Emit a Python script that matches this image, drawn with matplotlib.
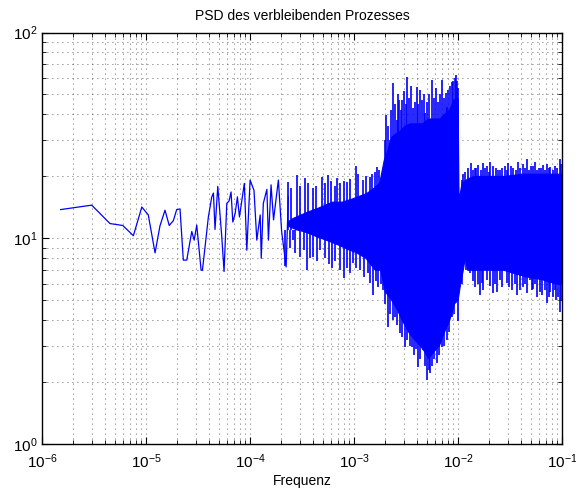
import matplotlib
matplotlib.use("Agg")
from matplotlib import pyplot as plt

plt.rcParams['font.family'] = ['Liberation Sans', 'DejaVu Sans']

# low-frequency part: single line
f_line = [1.51e-6, 3.0e-6, 4.5e-6, 5.97e-6, 7.55e-6, 9.1e-6, 1.05e-5, 1.22e-5,
          1.36e-5, 1.52e-5, 1.67e-5, 1.83e-5, 1.97e-5, 2.12e-5, 2.28e-5, 2.46e-5,
          2.75e-5, 2.9e-5, 3.07e-5, 3.38e-5, 3.48e-5, 3.69e-5, 3.97e-5, 4.28e-5,
          4.44e-5, 4.6e-5, 4.89e-5, 5.34e-5, 5.62e-5, 5.97e-5, 6.28e-5, 6.56e-5,
          6.82e-5, 7.18e-5, 7.55e-5, 7.9e-5, 8.8e-5, 9.3e-5, 1.0e-4, 1.09e-4,
          1.16e-4, 1.25e-4, 1.28e-4, 1.34e-4, 1.45e-4, 1.5e-4, 1.59e-4, 1.68e-4,
          1.87e-4, 2.01e-4, 2.22e-4, 2.33e-4]
p_line = [13.8, 14.5, 11.8, 11.55, 10.3, 14.2, 13.0, 8.5,
          11.5, 13.7, 11.55, 12.2, 13.8, 13.9, 7.84, 7.84,
          10.8, 9.8, 11.6, 7.0, 7.0, 9.1, 12.7, 15.9,
          16.6, 11.05, 17.9, 10.2, 6.9, 14.8, 15.2, 16.8,
          12.0, 13.2, 15.9, 12.7, 18.5, 8.76, 19.2, 17.1,
          9.8, 13.0, 8.0, 14.8, 17.3, 9.8, 18.2, 12.3,
          19.2, 10.8, 7.26, 15.9]

# dense part: solid body, upper edge
f_body_up = [2.3e-4, 2.6e-4, 3.1e-4, 3.7e-4, 4.5e-4, 5.3e-4, 6.2e-4, 7.7e-4,
             9.5e-4, 1.12e-3, 1.32e-3, 1.55e-3, 1.76e-3, 1.95e-3, 2.12e-3, 2.3e-3,
             2.48e-3, 2.75e-3, 3.07e-3, 3.45e-3, 4.0e-3, 4.55e-3, 5.2e-3, 6.0e-3,
             6.7e-3, 7.4e-3, 8.3e-3, 9.1e-3, 1.0e-2, 1.02e-2, 1.09e-2, 1.25e-2,
             1.45e-2, 1.9e-2, 2.8e-2, 4.2e-2, 6.0e-2, 8.6e-2, 1.0e-1]
p_body_up = [12.0, 12.5, 13.0, 13.5, 14.0, 14.5, 15.0, 15.0,
             15.5, 16.0, 16.5, 17.5, 18.5, 24.0, 27.0, 31.0,
             32.0, 33.0, 35.0, 36.0, 36.0, 36.0, 38.0, 38.0,
             38.0, 40.0, 42.0, 47.0, 48.0, 15.3, 18.5, 19.5,
             20.0, 20.0, 20.0, 20.5, 20.5, 20.5, 20.5]

# dense part: solid body, lower edge
f_body_lo = [2.3e-4, 2.8e-4, 3.25e-4, 3.8e-4, 4.35e-4, 5.4e-4, 7.0e-4, 8.9e-4,
             1.06e-3, 1.3e-3, 1.6e-3, 1.8e-3, 2.0e-3, 2.3e-3, 2.6e-3, 2.9e-3,
             3.35e-3, 3.85e-3, 4.35e-3, 4.8e-3, 5.2e-3, 5.8e-3, 6.6e-3, 7.4e-3,
             8.3e-3, 9.2e-3, 1.0e-2, 1.045e-2, 1.12e-2, 1.17e-2, 1.24e-2, 1.55e-2,
             2.03e-2, 2.75e-2, 3.3e-2, 4.55e-2, 6.4e-2, 8.8e-2, 1.0e-1]
p_body_lo = [11.5, 11.0, 10.8, 10.5, 10.2, 9.8, 9.3, 8.8,
             8.5, 8.0, 7.0, 7.0, 5.5, 5.0, 4.5, 4.0,
             3.5, 3.2, 3.0, 2.8, 2.6, 2.8, 3.0, 3.5,
             4.0, 4.8, 5.0, 5.8, 7.0, 8.0, 7.0, 7.0,
             7.0, 7.0, 6.8, 6.5, 6.3, 6.0, 6.0]

# tallest upward spikes
f_peak = [2.32e-4, 2.83e-4, 3.38e-4, 4.04e-4, 4.92e-4, 5.62e-4, 6.87e-4, 8.57e-4,
          1.045e-3, 1.22e-3, 1.43e-3, 1.66e-3, 1.86e-3, 2.03e-3, 2.22e-3, 2.37e-3,
          2.59e-3, 2.73e-3, 2.9e-3, 3.24e-3, 3.69e-3, 4.01e-3, 4.31e-3, 4.82e-3,
          5.62e-3, 6.43e-3, 7.02e-3, 7.84e-3, 8.07e-3, 8.75e-3, 9.57e-3, 1.0e-2,
          1.09e-2, 1.17e-2, 1.33e-2, 1.45e-2, 1.56e-2, 1.74e-2, 1.9e-2, 2.03e-2,
          2.3e-2, 2.53e-2, 2.8e-2, 3.03e-2, 3.4e-2, 3.78e-2, 4.2e-2, 4.61e-2,
          5.0e-2, 5.5e-2, 6.0e-2, 6.56e-2, 7.1e-2, 7.67e-2, 8.6e-2, 9.57e-2]
p_peak = [18.8, 20.3, 19.6, 17.6, 19.9, 20.3, 19.6, 18.8,
          22.4, 19.2, 19.9, 22.2, 20.7, 39.7, 30.0, 56.8,
          37.6, 47.0, 47.0, 60.8, 43.0, 54.5, 52.5, 40.6,
          58.8, 45.9, 58.8, 43.5, 52.5, 57.4, 62.1, 53.7,
          19.2, 21.0, 23.2, 22.0, 22.7, 23.2, 22.5, 23.4,
          22.0, 21.5, 22.5, 23.2, 22.0, 23.4, 23.0, 24.3,
          22.5, 23.4, 22.0, 22.7, 23.0, 22.2, 22.5, 24.3]

# smaller upward spikes
f_peak2 = [2.5e-4, 3.0e-4, 3.6e-4, 4.3e-4, 5.2e-4, 6.0e-4, 6.5e-4, 7.3e-4,
           8.0e-4, 9.2e-4, 1.1e-3, 1.3e-3, 1.5e-3, 1.6e-3, 1.75e-3, 1.98e-3,
           2.1e-3, 2.28e-3, 2.45e-3, 2.65e-3, 2.82e-3, 3.0e-3, 3.15e-3, 3.35e-3,
           3.5e-3, 3.85e-3, 4.15e-3, 4.45e-3, 4.65e-3, 5.0e-3, 5.3e-3, 5.8e-3,
           6.1e-3, 6.7e-3, 7.25e-3, 7.6e-3, 8.4e-3, 9.0e-3, 9.3e-3, 9.8e-3,
           1.12e-2, 1.25e-2, 1.39e-2, 1.5e-2, 1.65e-2, 1.82e-2, 1.97e-2, 2.15e-2,
           2.42e-2, 2.65e-2, 2.92e-2, 3.2e-2, 3.6e-2, 3.95e-2, 4.4e-2, 4.8e-2,
           5.25e-2, 5.75e-2, 6.3e-2, 6.85e-2, 7.4e-2, 8.1e-2, 9.0e-2, 9.8e-2]
p_peak2 = [17.5, 18.0, 18.5, 18.0, 18.5, 19.0, 18.0, 18.5,
           19.0, 19.5, 20.5, 20.0, 20.5, 21.0, 21.5, 30.0,
           35.0, 42.0, 45.0, 50.0, 42.0, 52.0, 45.0, 48.0,
           55.0, 46.0, 45.0, 47.0, 50.0, 46.0, 50.0, 48.0,
           54.0, 50.0, 48.0, 51.0, 55.0, 58.0, 60.0, 58.0,
           20.5, 22.0, 21.5, 22.0, 21.5, 22.0, 21.0, 22.5,
           21.5, 22.0, 21.5, 22.5, 21.5, 22.0, 22.0, 21.5,
           22.5, 21.5, 22.0, 21.5, 22.0, 21.5, 22.0, 23.0]

# deepest downward spikes
f_trough = [2.17e-4, 2.59e-4, 3.03e-4, 3.53e-4, 4.04e-4, 4.71e-4, 6.14e-4, 8.02e-4,
            9.77e-4, 1.14e-3, 1.43e-3, 1.52e-3, 1.7e-3, 1.9e-3, 2.12e-3, 2.48e-3,
            2.77e-3, 3.09e-3, 3.61e-3, 4.12e-3, 4.6e-3, 5.03e-3, 5.38e-3, 6.28e-3,
            7.02e-3, 7.84e-3, 8.75e-3, 9.77e-3, 1.0e-2, 1.3e-2, 1.46e-2, 1.63e-2,
            1.75e-2, 1.9e-2, 2.17e-2, 2.35e-2, 2.53e-2, 2.96e-2, 3.3e-2, 3.69e-2,
            4.22e-2, 4.55e-2, 4.92e-2, 5.3e-2, 5.75e-2, 6.4e-2, 7.18e-2, 7.7e-2,
            8.19e-2, 8.8e-2, 9.57e-2]
p_trough = [7.33, 9.8, 8.1, 7.0, 8.1, 8.76, 7.16, 6.4,
            7.57, 7.0, 6.06, 5.3, 5.79, 5.6, 3.7, 4.14,
            3.46, 2.96, 2.96, 2.36, 2.86, 2.05, 2.21, 2.47,
            2.96, 3.2, 4.14, 5.42, 3.96, 6.77, 5.79, 5.3,
            5.6, 6.26, 5.42, 5.5, 6.26, 6.06, 5.6, 5.3,
            5.79, 5.4, 6.26, 5.7, 5.18, 5.3, 4.84, 5.5,
            5.18, 5.0, 4.38]

# smaller downward spikes
f_trough2 = [2.4e-4, 2.7e-4, 3.3e-4, 3.8e-4, 4.4e-4, 5.2e-4, 5.7e-4, 6.6e-4,
             7.3e-4, 8.5e-4, 9.2e-4, 1.05e-3, 1.25e-3, 1.35e-3, 1.62e-3, 1.8e-3,
             2.0e-3, 2.2e-3, 2.35e-3, 2.6e-3, 2.9e-3, 3.25e-3, 3.45e-3, 3.8e-3,
             3.95e-3, 4.3e-3, 4.85e-3, 5.2e-3, 5.6e-3, 5.9e-3, 6.6e-3, 7.3e-3,
             8.2e-3, 9.2e-3, 1.1e-2, 1.2e-2, 1.38e-2, 1.55e-2, 1.7e-2, 2.03e-2,
             2.25e-2, 2.65e-2, 3.1e-2, 3.5e-2, 3.9e-2, 4.4e-2, 5.1e-2, 5.5e-2,
             6.1e-2, 6.8e-2, 7.5e-2, 8.5e-2, 9.2e-2, 9.8e-2]
p_trough2 = [9.0, 8.5, 8.8, 8.0, 7.8, 8.0, 7.5, 7.8,
             7.0, 7.2, 6.8, 7.2, 6.5, 6.8, 6.2, 6.0,
             4.8, 4.3, 4.0, 3.8, 3.3, 3.2, 3.0, 2.7,
             2.9, 2.6, 2.4, 2.3, 2.4, 2.6, 2.7, 3.0,
             3.5, 4.3, 6.0, 7.0, 6.2, 6.0, 6.1, 5.9,
             6.0, 5.8, 5.8, 6.0, 5.6, 6.0, 5.6, 6.0,
             5.5, 5.6, 5.2, 5.6, 5.2, 5.0]

fig = plt.figure(figsize=(5.76, 4.93), dpi=100)
ax = fig.add_axes([0.073, 0.099, 0.903, 0.835])

ax.plot(f_line, p_line, color='blue', linewidth=0.9)
ax.fill(f_body_up + f_body_lo[::-1], p_body_up + p_body_lo[::-1],
        facecolor='blue', edgecolor='blue', linewidth=0.8)
ax.vlines(f_peak, 11, p_peak, color='blue', linewidth=1.2)
ax.vlines(f_peak2, 11, p_peak2, color='blue', linewidth=1.2)
ax.vlines(f_trough, p_trough, 11, color='blue', linewidth=1.2)
ax.vlines(f_trough2, p_trough2, 11, color='blue', linewidth=1.2)

ax.set_xscale('log')
ax.set_yscale('log')
ax.set_xlim(1e-6, 1e-1)
ax.set_ylim(1, 100)

ax.grid(True, which='both', color='0.2', linestyle=(0, (1, 5)), linewidth=0.6)
ax.set_axisbelow(True)
ax.tick_params(which='both', direction='in', top=True, right=True, labelsize=11)
ax.tick_params(which='major', length=5)
ax.tick_params(which='minor', length=3)
ax.tick_params(axis='x', pad=6)
for s in ax.spines.values():
    s.set_linewidth(1.0)

ax.set_xlabel("Frequenz", fontsize=10, labelpad=2)
ax.set_title("PSD des verbleibenden Prozesses", fontsize=10, pad=9)

fig.savefig("out.png", dpi=100)
